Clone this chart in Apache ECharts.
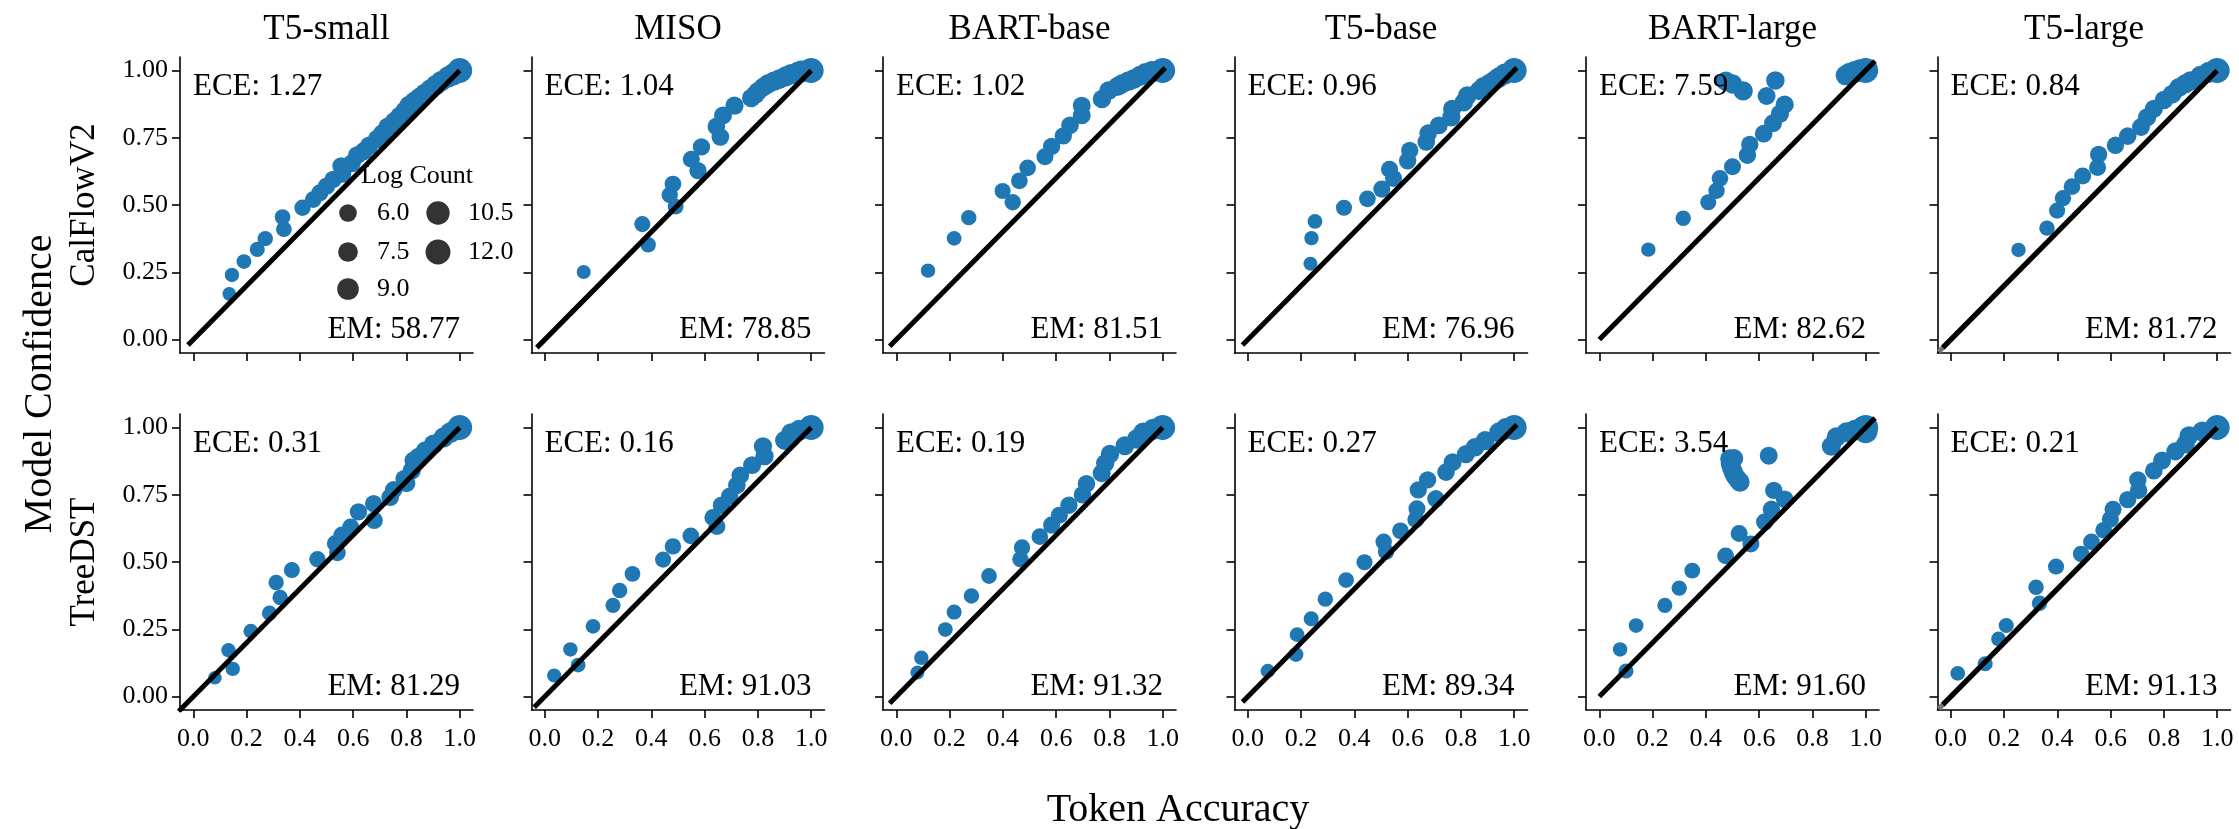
<!DOCTYPE html>
<html>
<head>
<meta charset="utf-8">
<script src="https://cdn.jsdelivr.net/npm/echarts@6/dist/echarts.min.js"></script>
<style>
  html, body { margin: 0; padding: 0; background: #fff; }
  #chart { width: 2239px; height: 829px; }
</style>
</head>
<body>
<div id="chart"></div>
<script>
// ---- categories and labels ----
const models = ['T5-small', 'MISO', 'BART-base', 'T5-base', 'BART-large', 'T5-large'];
const datasets = ['CalFlowV2', 'TreeDST'];
const xTicks = [0, 0.2, 0.4, 0.6, 0.8, 1.0];
const yTicks = [0, 0.25, 0.5, 0.75, 1.0];
const legendLogCounts = [6.0, 7.5, 9.0, 10.5, 12.0];

// ---- summary metrics per panel ----
const eceCalFlow = [1.27, 1.04, 1.02, 0.96, 7.59, 0.84];
const eceTreeDST = [0.31, 0.16, 0.19, 0.27, 3.54, 0.21];
const emCalFlow = [58.77, 78.85, 81.51, 76.96, 82.62, 81.72];
const emTreeDST = [81.29, 91.03, 91.32, 89.34, 91.60, 91.13];

// ---- identity reference segments (start/end value on both axes) ----
const diagStartCalFlow = [-0.02, -0.03, -0.025, -0.02, 0.0, -0.03];
const diagEndCalFlow = [1.0, 1.0, 1.01, 1.01, 1.035, 1.0];
const diagStartTreeDST = [-0.055, -0.04, -0.025, -0.02, 0.0, -0.03];
const diagEndTreeDST = [1.0, 1.0, 1.0, 1.01, 1.035, 1.0];

// ---- bins: [token accuracy, model confidence, log count] ----
const calflowT5Small = [[0.135,0.17,3.6],[0.145,0.24,4.0],[0.19,0.29,4.2],[0.24,0.335,4.4],[0.27,0.375,4.6],[0.335,0.455,4.8],[0.34,0.41,4.8],[0.41,0.49,5.2],[0.45,0.52,5.4],[0.475,0.545,5.6],[0.50,0.57,5.8],[0.525,0.595,5.8],[0.555,0.645,6.0],[0.56,0.615,6.0],[0.595,0.655,6.2],[0.615,0.685,6.3],[0.64,0.70,6.4],[0.66,0.72,6.6],[0.69,0.745,6.6],[0.71,0.765,6.8],[0.73,0.79,6.8],[0.755,0.81,7.0],[0.775,0.83,7.0],[0.795,0.85,7.2],[0.81,0.87,7.2],[0.83,0.885,7.4],[0.85,0.90,7.4],[0.87,0.915,7.6],[0.89,0.93,7.8],[0.91,0.945,8.0],[0.93,0.96,8.2],[0.955,0.975,8.6],[0.975,0.985,9.2],[1.0,1.0,12.0]];
const calflowMISO = [[0.146,0.251,3.8],[0.366,0.429,5.0],[0.388,0.352,4.6],[0.469,0.537,5.2],[0.481,0.578,5.4],[0.491,0.494,4.8],[0.55,0.67,5.6],[0.575,0.628,5.8],[0.588,0.716,5.8],[0.644,0.792,6.0],[0.659,0.753,6.0],[0.669,0.833,6.2],[0.712,0.869,6.4],[0.775,0.898,6.6],[0.79,0.91,6.8],[0.80,0.922,6.8],[0.82,0.938,7.0],[0.838,0.95,7.2],[0.86,0.96,7.4],[0.881,0.968,7.6],[0.905,0.978,7.8],[0.925,0.986,8.2],[0.95,0.993,8.6],[0.963,0.996,9.2],[1.0,1.0,12.0]];
const calflowBARTBase = [[0.119,0.256,4.0],[0.217,0.376,4.2],[0.272,0.453,4.6],[0.399,0.552,5.0],[0.437,0.51,5.2],[0.462,0.59,5.4],[0.493,0.638,5.4],[0.558,0.679,5.6],[0.583,0.718,5.8],[0.627,0.757,5.8],[0.652,0.796,6.0],[0.696,0.833,6.2],[0.696,0.869,6.2],[0.772,0.894,6.6],[0.797,0.925,6.8],[0.83,0.94,7.0],[0.847,0.95,7.2],[0.87,0.96,7.4],[0.891,0.968,7.6],[0.915,0.98,7.8],[0.935,0.989,8.2],[0.96,0.995,8.8],[1.0,1.0,12.0]];
const calflowT5Base = [[0.235,0.282,3.8],[0.239,0.377,4.0],[0.252,0.439,4.2],[0.361,0.49,5.0],[0.449,0.523,5.4],[0.503,0.559,5.6],[0.532,0.633,5.6],[0.547,0.599,5.6],[0.60,0.664,5.8],[0.608,0.703,5.8],[0.67,0.734,6.0],[0.677,0.767,6.0],[0.717,0.796,6.2],[0.764,0.826,6.4],[0.767,0.857,6.4],[0.811,0.882,6.6],[0.824,0.906,6.8],[0.868,0.925,7.0],[0.885,0.94,7.2],[0.906,0.95,7.4],[0.925,0.962,7.6],[0.943,0.974,8.0],[0.965,0.987,8.6],[1.0,1.0,12.0]];
const calflowBARTLarge = [[0.184,0.334,4.0],[0.315,0.451,4.6],[0.409,0.51,5.0],[0.44,0.553,5.2],[0.453,0.599,5.4],[0.50,0.642,5.6],[0.475,0.96,7.3],[0.50,0.95,7.3],[0.54,0.924,7.2],[0.556,0.685,5.8],[0.565,0.725,5.8],[0.617,0.765,6.0],[0.628,0.905,6.2],[0.652,0.804,6.2],[0.678,0.839,6.4],[0.696,0.873,6.4],[0.661,0.963,6.6],[0.925,0.982,7.8],[0.94,0.99,8.4],[0.96,0.995,9.0],[0.98,1.0,9.8],[1.0,1.0,12.0]];
const calflowT5Large = [[0.254,0.333,4.0],[0.361,0.414,4.6],[0.399,0.479,5.0],[0.421,0.525,5.2],[0.455,0.568,5.4],[0.495,0.608,5.6],[0.551,0.639,5.6],[0.555,0.688,5.8],[0.618,0.722,5.8],[0.664,0.756,6.0],[0.714,0.79,6.2],[0.737,0.826,6.4],[0.762,0.857,6.4],[0.80,0.89,6.6],[0.831,0.912,6.8],[0.856,0.937,7.0],[0.88,0.95,7.2],[0.90,0.961,7.4],[0.937,0.98,7.8],[0.969,0.993,8.6],[1.0,1.0,12.0]];

const treedstT5Small = [[0.081,0.07,3.6],[0.132,0.172,4.0],[0.148,0.103,4.0],[0.216,0.243,4.2],[0.286,0.31,4.4],[0.311,0.424,4.6],[0.326,0.368,4.6],[0.37,0.47,5.0],[0.466,0.51,5.2],[0.533,0.569,5.4],[0.541,0.534,5.4],[0.558,0.60,5.6],[0.591,0.63,5.6],[0.62,0.686,5.8],[0.677,0.717,5.8],[0.679,0.655,5.8],[0.739,0.741,6.0],[0.752,0.768,6.0],[0.792,0.809,6.2],[0.80,0.793,6.2],[0.82,0.84,6.4],[0.827,0.877,6.4],[0.845,0.89,6.6],[0.871,0.914,6.8],[0.902,0.938,7.2],[0.94,0.963,7.8],[0.965,0.981,8.4],[1.0,1.0,12.0]];
const treedstMISO = [[0.035,0.078,3.8],[0.096,0.175,4.0],[0.125,0.117,4.2],[0.181,0.261,4.2],[0.256,0.339,4.4],[0.281,0.394,4.6],[0.329,0.456,4.8],[0.444,0.509,5.0],[0.481,0.558,5.2],[0.548,0.597,5.4],[0.631,0.665,5.6],[0.646,0.632,5.6],[0.663,0.711,5.8],[0.694,0.745,5.8],[0.721,0.785,6.0],[0.734,0.822,6.0],[0.778,0.86,6.2],[0.819,0.93,6.4],[0.825,0.893,6.4],[0.90,0.952,7.0],[0.925,0.979,7.6],[0.956,0.99,8.4],[1.0,1.0,12.0]];
const treedstBARTBase = [[0.079,0.089,3.8],[0.094,0.144,4.0],[0.184,0.249,4.2],[0.217,0.314,4.4],[0.282,0.374,4.6],[0.348,0.448,4.8],[0.466,0.51,5.2],[0.472,0.554,5.2],[0.539,0.594,5.4],[0.583,0.637,5.6],[0.612,0.674,5.6],[0.648,0.711,5.8],[0.699,0.75,6.0],[0.714,0.791,6.0],[0.771,0.83,6.2],[0.784,0.867,6.4],[0.802,0.901,6.6],[0.858,0.932,6.8],[0.902,0.957,7.2],[0.927,0.981,7.8],[0.965,0.993,8.6],[1.0,1.0,12.0]];
const treedstT5Base = [[0.075,0.095,4.0],[0.181,0.156,4.2],[0.185,0.23,4.2],[0.238,0.289,4.4],[0.291,0.362,4.6],[0.369,0.433,4.8],[0.438,0.499,5.0],[0.51,0.575,5.2],[0.519,0.538,5.2],[0.573,0.616,5.4],[0.631,0.658,5.6],[0.635,0.698,5.6],[0.64,0.768,5.8],[0.675,0.805,5.8],[0.706,0.735,5.8],[0.744,0.834,6.0],[0.769,0.871,6.2],[0.819,0.901,6.4],[0.853,0.926,6.6],[0.891,0.951,7.0],[0.944,0.982,7.8],[0.97,0.995,8.8],[1.0,1.0,12.0]];
const treedstBARTLarge = [[0.078,0.175,4.0],[0.10,0.095,4.4],[0.138,0.264,4.2],[0.246,0.339,4.4],[0.30,0.403,4.6],[0.349,0.468,4.8],[0.474,0.523,5.4],[0.525,0.606,5.6],[0.569,0.567,5.6],[0.621,0.649,5.8],[0.646,0.696,5.8],[0.655,0.766,5.8],[0.696,0.733,6.0],[0.636,0.895,6.2],[0.49,0.883,7.2],[0.492,0.865,7.2],[0.496,0.852,7.2],[0.502,0.836,7.2],[0.509,0.821,7.2],[0.52,0.806,7.2],[0.528,0.797,7.2],[0.505,0.885,6.8],[0.871,0.93,7.0],[0.89,0.964,7.4],[0.928,0.982,7.8],[0.96,0.99,8.4],[0.99,1.0,9.8],[1.0,0.985,10.8],[1.0,1.0,12.0]];
const treedstT5Large = [[0.026,0.086,4.2],[0.129,0.122,4.4],[0.179,0.214,4.2],[0.208,0.264,4.4],[0.32,0.406,4.6],[0.333,0.347,4.6],[0.395,0.483,5.0],[0.489,0.53,5.2],[0.528,0.575,5.4],[0.574,0.618,5.4],[0.599,0.659,5.6],[0.609,0.696,5.6],[0.664,0.732,5.8],[0.705,0.766,5.8],[0.702,0.805,5.8],[0.762,0.839,6.0],[0.793,0.877,6.2],[0.843,0.911,6.4],[0.881,0.938,6.8],[0.894,0.969,7.0],[0.944,0.985,7.8],[1.0,1.0,12.0]];

const panelBins = [
  [calflowT5Small, calflowMISO, calflowBARTBase, calflowT5Base, calflowBARTLarge, calflowT5Large],
  [treedstT5Small, treedstMISO, treedstBARTBase, treedstT5Base, treedstBARTLarge, treedstT5Large]
];
const panelECE = [eceCalFlow, eceTreeDST];
const panelEM = [emCalFlow, emTreeDST];
const panelDiagStart = [diagStartCalFlow, diagStartTreeDST];
const panelDiagEnd = [diagEndCalFlow, diagEndTreeDST];

// ---- layout ----
const FONT = "'Liberation Serif', 'Times New Roman', serif";
const GRID_LEFT0 = 180, COL_STEP = 351.5, GRID_W = 293, GRID_H = 296;
const ROW_TOP = [57, 414];
const BLUE = '#1f77b4';
// marker area grows linearly with log count
const sizeFor = (logCount) => 7.2 * Math.sqrt(logCount);

const grids = [], xAxes = [], yAxes = [], series = [], graphics = [];

datasets.forEach((ds, r) => {
  models.forEach((m, c) => {
    const k = r * models.length + c;
    const left = GRID_LEFT0 + COL_STEP * c;
    const top = ROW_TOP[r];
    grids.push({ left: left, top: top, width: GRID_W, height: GRID_H, containLabel: false });

    const axisLine = { show: true, onZero: false, lineStyle: { color: '#000', width: 1.6 } };
    xAxes.push({
      gridIndex: k, type: 'value', min: -0.05, max: 1.05,
      axisLine: axisLine,
      axisTick: { show: true, length: 8, customValues: xTicks, lineStyle: { color: '#000', width: 1.6 } },
      axisLabel: { show: r === 1, customValues: xTicks, formatter: v => v.toFixed(1),
        fontFamily: FONT, fontSize: 26, color: '#000', margin: 16 },
      splitLine: { show: false }
    });
    yAxes.push({
      gridIndex: k, type: 'value', min: -0.05, max: 1.05,
      axisLine: axisLine,
      axisTick: { show: true, length: 8, customValues: yTicks, lineStyle: { color: '#000', width: 1.6 } },
      axisLabel: { show: c === 0, customValues: yTicks, formatter: v => v.toFixed(2),
        fontFamily: FONT, fontSize: 26, color: '#000', margin: 12 },
      splitLine: { show: false }
    });

    series.push({
      type: 'scatter', xAxisIndex: k, yAxisIndex: k,
      data: panelBins[r][c],
      symbolSize: v => sizeFor(v[2]),
      itemStyle: { color: BLUE, opacity: 1 },
      z: 2, silent: true
    });
    if (c === 5) {
      series.push({
        type: 'line', xAxisIndex: k, yAxisIndex: k,
        data: [[-0.045, -0.045], [1.0, 1.0]],
        symbol: 'none', lineStyle: { color: '#777', width: 5 }, z: 3, silent: true
      });
    }
    const s = panelDiagStart[r][c], e = panelDiagEnd[r][c];
    series.push({
      type: 'line', xAxisIndex: k, yAxisIndex: k,
      data: [[s, s], [e, e]],
      symbol: 'none', lineStyle: { color: '#000', width: 5 }, z: 4, silent: true
    });

    graphics.push({
      type: 'text', x: left + 13, y: top + 30, z: 100,
      style: { text: 'ECE: ' + panelECE[r][c].toFixed(2), fontFamily: FONT, fontSize: 31,
        fill: '#000', align: 'left', verticalAlign: 'middle' }
    });
    graphics.push({
      type: 'text', x: left + 280, y: top + 273, z: 100,
      style: { text: 'EM: ' + panelEM[r][c].toFixed(2), fontFamily: FONT, fontSize: 31,
        fill: '#000', align: 'right', verticalAlign: 'middle' }
    });

    if (r === 0) {
      graphics.push({
        type: 'text', x: left + GRID_W / 2, y: 30, z: 100,
        style: { text: m, fontFamily: FONT, fontSize: 35, fill: '#000', align: 'center', verticalAlign: 'middle' }
      });
    }
  });
  graphics.push({
    type: 'text', x: 85, y: ROW_TOP[r] + GRID_H / 2, rotation: Math.PI / 2, z: 100,
    style: { text: ds, fontFamily: FONT, fontSize: 35, fill: '#000', align: 'center', verticalAlign: 'middle' }
  });
});

// figure-level axis titles
graphics.push({
  type: 'text', x: 40, y: 384, rotation: Math.PI / 2, z: 100,
  style: { text: 'Model Confidence', fontFamily: FONT, fontSize: 40, fill: '#000', align: 'center', verticalAlign: 'middle' }
});
graphics.push({
  type: 'text', x: 1178, y: 810, z: 100,
  style: { text: 'Token Accuracy', fontFamily: FONT, fontSize: 40, fill: '#000', align: 'center', verticalAlign: 'middle' }
});

// size legend inside the first panel
(function () {
  const left = GRID_LEFT0, top = ROW_TOP[0];
  graphics.push({
    type: 'text', x: left + 237, y: top + 119, z: 100,
    style: { text: 'Log Count', fontFamily: FONT, fontSize: 26, fill: '#000', align: 'center', verticalAlign: 'middle' }
  });
  const colMarkerX = [168, 258], colLabelX = [197, 288], rowY = [156, 195, 232];
  legendLogCounts.forEach((lc, i) => {
    const col = Math.floor(i / 3), row = i % 3;
    graphics.push({
      type: 'circle', z: 100,
      shape: { cx: left + colMarkerX[col], cy: top + rowY[row], r: sizeFor(lc) / 2 },
      style: { fill: '#333333' }
    });
    graphics.push({
      type: 'text', x: left + colLabelX[col], y: top + rowY[row], z: 100,
      style: { text: lc.toFixed(1), fontFamily: FONT, fontSize: 26, fill: '#000', align: 'left', verticalAlign: 'middle' }
    });
  });
})();

const chart = echarts.init(document.getElementById('chart'), null, { renderer: 'canvas' });
chart.setOption({
  animation: false,
  backgroundColor: '#fff',
  grid: grids,
  xAxis: xAxes,
  yAxis: yAxes,
  series: series,
  graphic: graphics
});
</script>
</body>
</html>
